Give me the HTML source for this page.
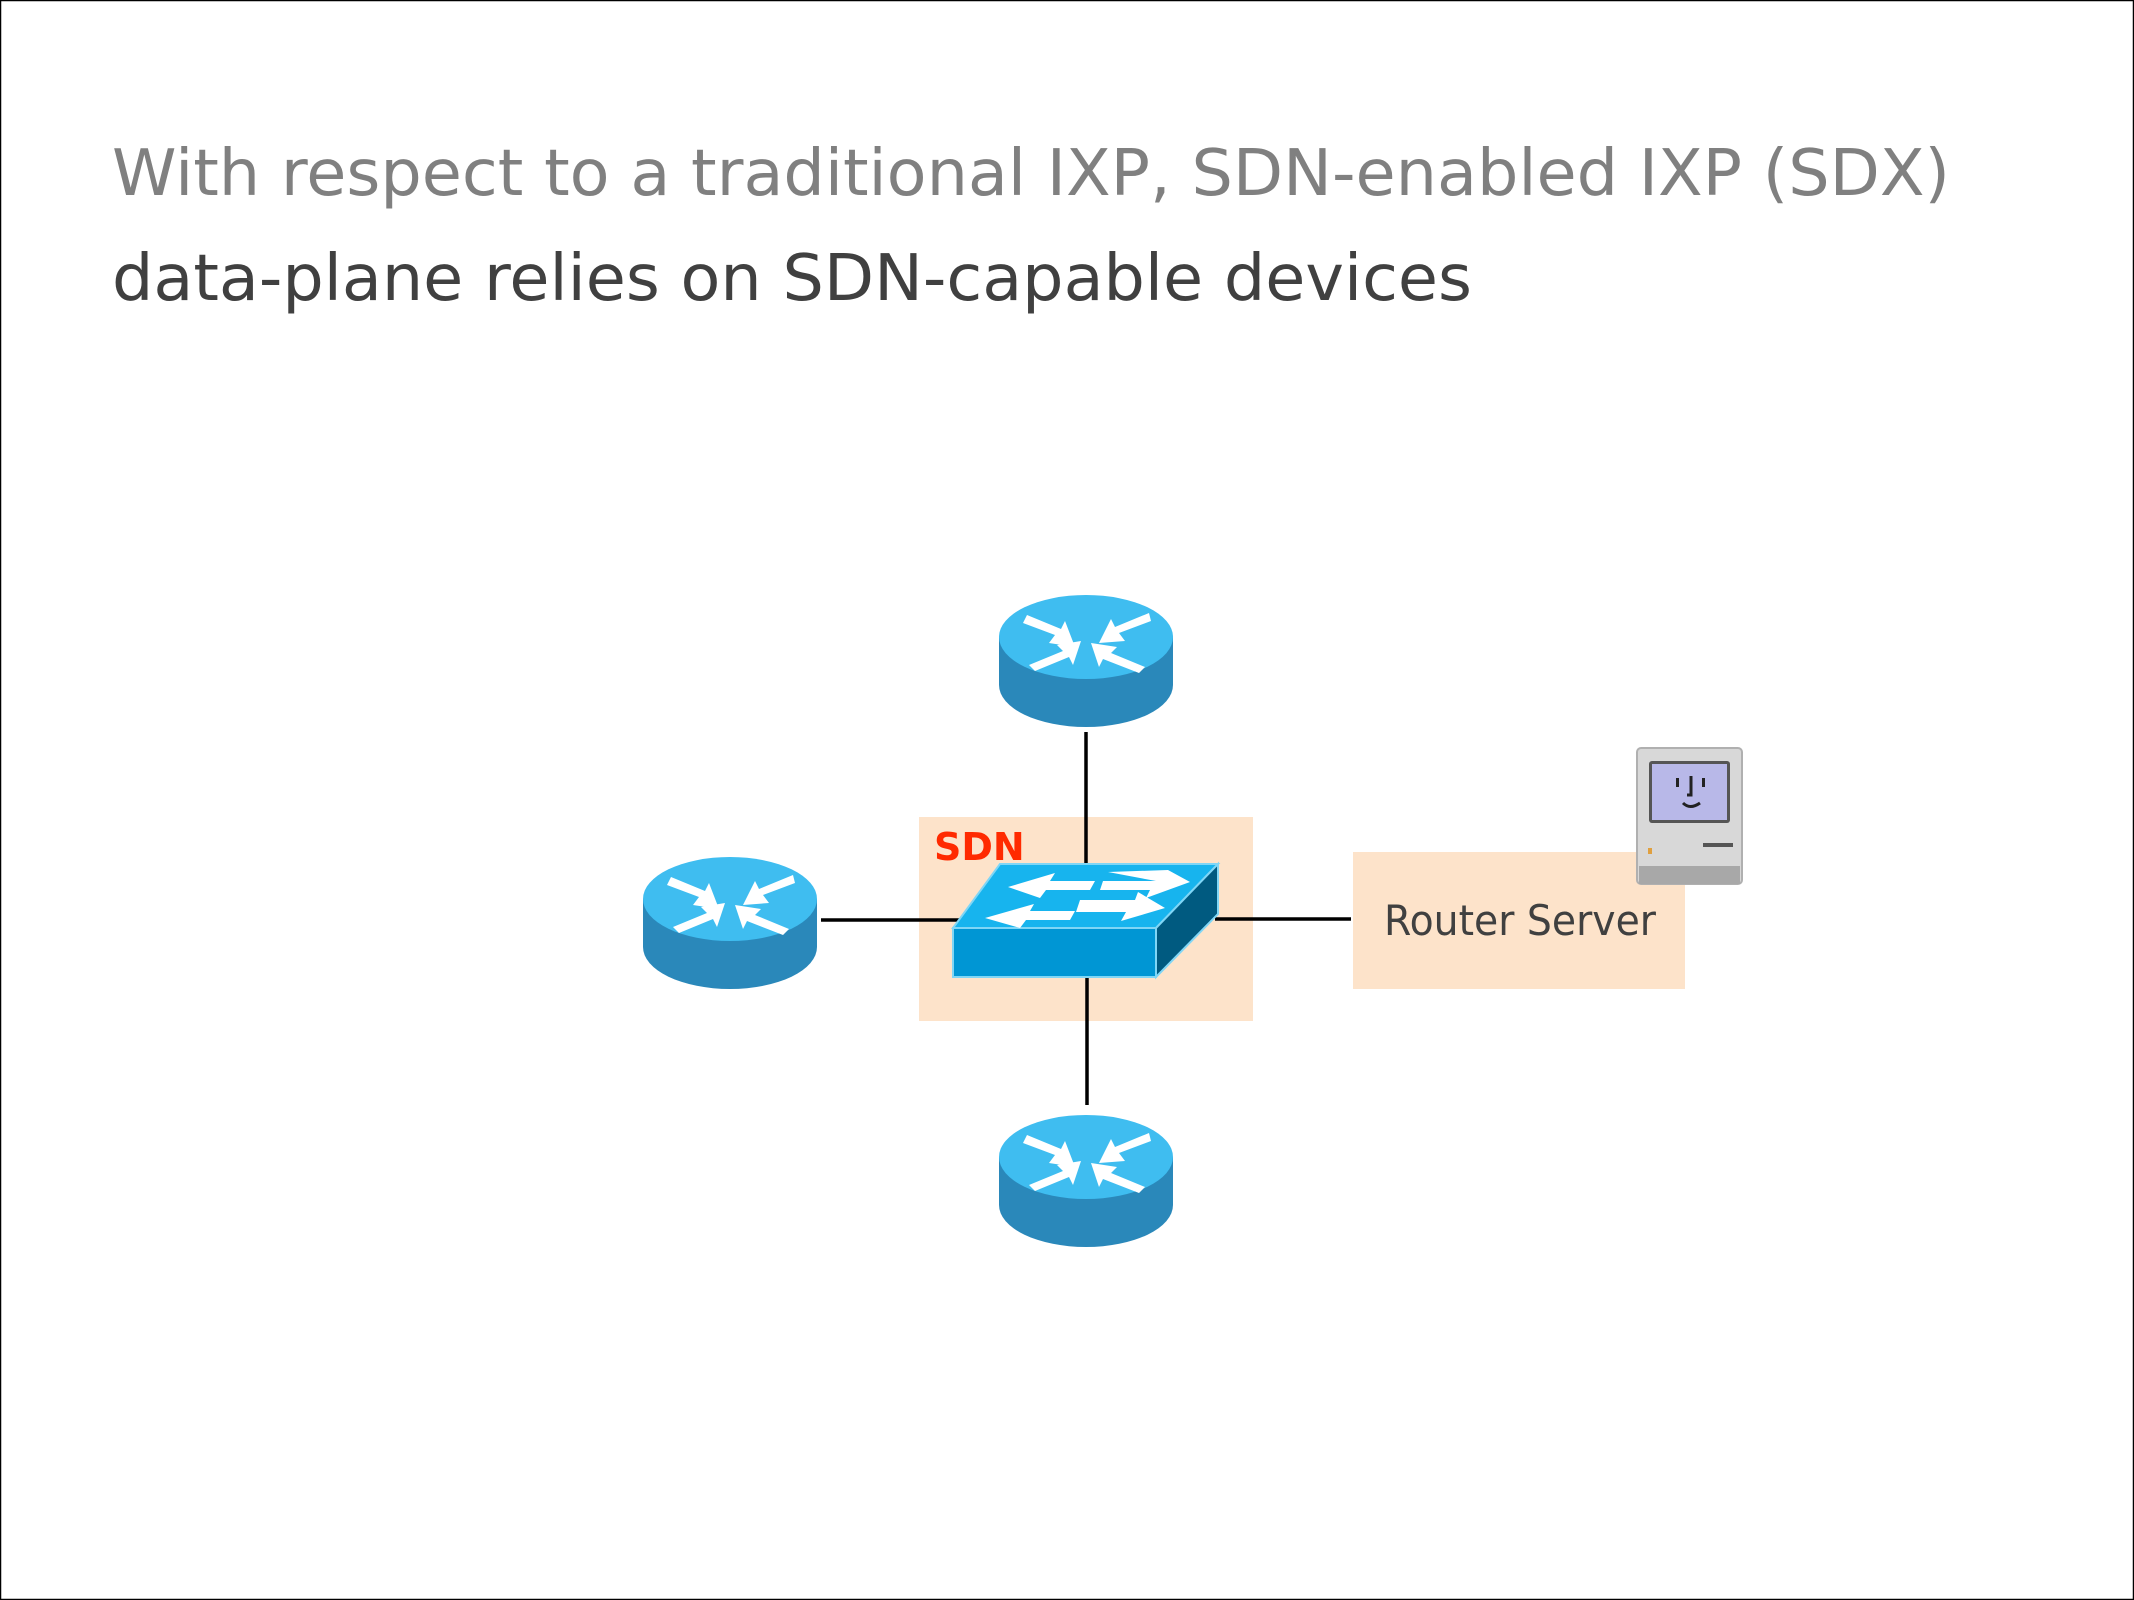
<!DOCTYPE html>
<html><head><style>
html,body{margin:0;padding:0;background:#fff;}
svg{display:block;}
</style></head><body>
<svg width="2134" height="1600" viewBox="0 0 2134 1600" xmlns="http://www.w3.org/2000/svg">
<defs>
<g id="router">
  <path d="M0,42 L0,90 A87,42 0 0 0 174,90 L174,42 Z" fill="#2a88ba"/>
  <ellipse cx="87" cy="42" rx="87" ry="42" fill="#3fbdf0"/>
  <g fill="#fff">
    <path d="M28,20 L62,34 L66,26 L76,52 L50,48 L56,40 L24,28 Z"/>
    <path d="M150,18 L116,32 L112,24 L100,48 L126,46 L120,38 L152,26 Z"/>
    <path d="M30,70 L64,56 L58,50 L82,46 L74,70 L70,62 L36,76 Z"/>
    <path d="M146,72 L112,58 L118,52 L92,48 L100,72 L104,64 L140,78 Z"/>
  </g>
</g>
</defs>
<rect x="0.5" y="0.5" width="2133" height="1599" fill="#fff" stroke="#000" stroke-width="1.5"/>
<text x="112" y="195" font-family="DejaVu Sans, Liberation Sans, sans-serif" font-size="64" fill="#808080" textLength="1838" lengthAdjust="spacingAndGlyphs">With respect to a traditional IXP, SDN-enabled IXP (SDX)</text>
<text x="112" y="300" font-family="DejaVu Sans, Liberation Sans, sans-serif" font-size="64" fill="#404040" textLength="1360" lengthAdjust="spacingAndGlyphs">data-plane relies on SDN-capable devices</text>

<rect x="919" y="817" width="334" height="204" fill="#fde3ca"/>
<rect x="1353" y="852" width="332" height="137" fill="#fde3ca"/>

<g stroke="#000" stroke-width="3.5">
  <line x1="1086" y1="732" x2="1086" y2="866"/>
  <line x1="1087" y1="977" x2="1087" y2="1105"/>
  <line x1="821" y1="920" x2="960" y2="920"/>
  <line x1="1215" y1="919" x2="1351" y2="919"/>
</g>

<use href="#router" x="999" y="595"/>
<use href="#router" x="643" y="857"/>
<use href="#router" x="999" y="1115"/>

<!-- switch -->
<polygon points="1000,864 1218,864 1156,928 953,928" fill="#17b4ee" stroke="#7fd6f6" stroke-width="2"/>
<polygon points="953,928 1156,928 1156,977 953,977" fill="#0096d4" stroke="#7fd6f6" stroke-width="2"/>
<polygon points="1156,928 1218,864 1218,914 1156,977" fill="#005a80" stroke="#7fd6f6" stroke-width="2"/>
<g fill="#fff">
  <polygon points="1008,887 1055,873 1050,881 1095,881 1090,890 1046,890 1040,898"/>
  <polygon points="1108,872 1168,870 1190,882 1146,898 1150,890 1100,890 1103,881 1156,881"/>
  <polygon points="985,918 1034,904 1030,911 1075,911 1070,920 1026,920 1020,928"/>
  <polygon points="1080,900 1135,900 1138,892 1165,908 1121,921 1126,912 1076,912"/>
</g>
<text x="934" y="860" font-family="DejaVu Sans, Liberation Sans, sans-serif" font-weight="bold" font-size="38" fill="#ff2a00">SDN</text>
<text x="1384" y="935" font-family="DejaVu Sans, Liberation Sans, sans-serif" font-size="42" fill="#404040" textLength="272" lengthAdjust="spacingAndGlyphs">Router Server</text>

<!-- mac -->
<g>
  <rect x="1637" y="748" width="105" height="136" rx="4" fill="#d8d8d8" stroke="#b0b0b0" stroke-width="2"/>
  <rect x="1639" y="866" width="101" height="18" fill="#a8a8a8"/>
  <rect x="1649" y="761" width="81" height="62" rx="3" fill="#555"/>
  <rect x="1652" y="764" width="75" height="56" fill="#b8b8e8"/>
  <rect x="1676" y="778" width="3" height="9" fill="#222"/>
  <rect x="1702" y="778" width="3" height="9" fill="#222"/>
  <path d="M1691,776 L1691,795 L1687,795" stroke="#222" stroke-width="3" fill="none"/>
  <path d="M1683,803 Q1690,810 1700,803" stroke="#222" stroke-width="3" fill="none"/>
  <rect x="1703" y="843" width="30" height="4" fill="#555"/>
  <rect x="1648" y="848" width="4" height="6" fill="#e0a040"/>
</g>
</svg>
</body></html>
